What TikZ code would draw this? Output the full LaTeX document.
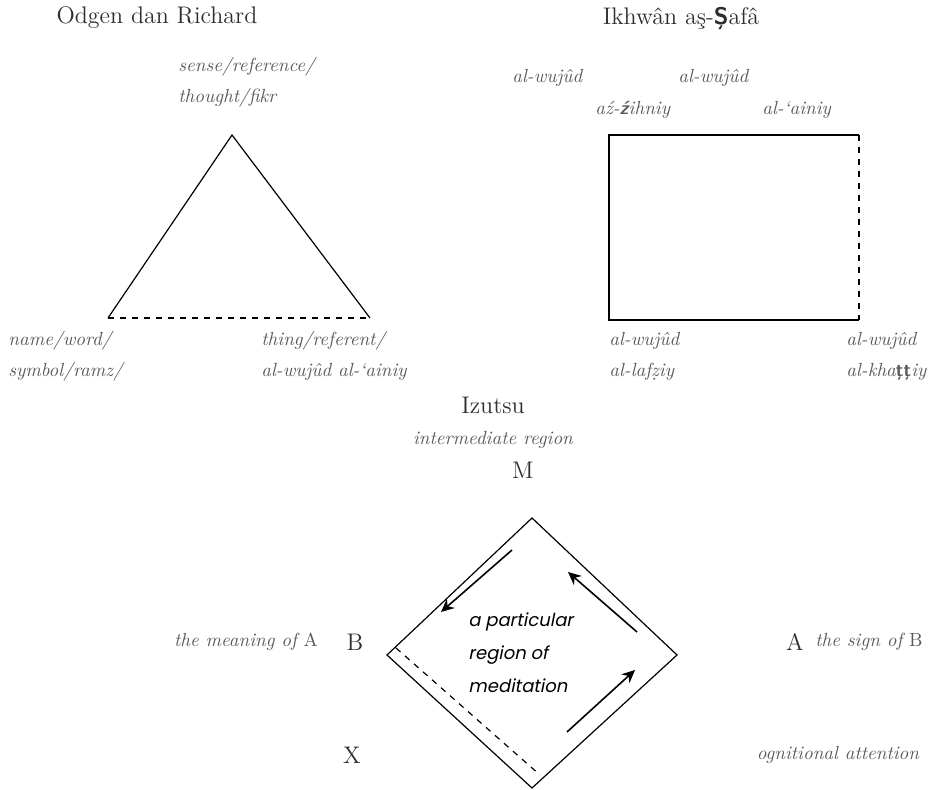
\documentclass[tikz,border=0pt]{standalone}
\usepackage{fontspec}
\usetikzlibrary{arrows.meta}
\newfontfamily\regionfont{Poppins}[FakeSlant=0.2]
\definecolor{labelgrey}{HTML}{5A5A5A}
\definecolor{titlegrey}{HTML}{2E2E2E}

\begin{document}
\begin{tikzpicture}[x=0.5pt, y=-0.5pt,
    title/.style={text=titlegrey, font=\fontsize{12}{14}\selectfont, inner sep=0pt},
    term/.style={text=labelgrey, font=\fontsize{9.5}{15.5}\selectfont\itshape, anchor=west, align=left, inner sep=0pt},
    letter/.style={text=titlegrey, font=\fontsize{12}{14}\selectfont, inner sep=0pt},
    edge/.style={line width=0.6pt},
    flow/.style={-{Stealth[length=6.5pt, width=6pt]}, line width=0.8pt}]
        \useasboundingbox (0,0) rectangle (936,790);

        % Odgen dan Richard
        \node[title] (ogdenTitle) at (157,18) {Odgen dan Richard};
        \coordinate (apex) at (232,135);
        \coordinate (baseL) at (108,318);
        \coordinate (baseR) at (370,318);
        \draw[edge] (baseL) -- (apex) -- (baseR);
        \draw[edge, dashed] (baseL) -- (baseR);
        \node[term] (thought) at (178,82) {sense/reference/\\thought/fikr};
        \node[term] (symbol) at (8,356) {name/word/\\symbol/ramz/};
        \node[term] (referent) at (261,356) {thing/referent/\\al-wujûd al-‘ainiy};

        % Ikhwan as-Safa
        \node[title] (ikhwanTitle) at (681,18) {Ikhwân aş-{\bfseries\sffamily Ş}afâ};
        \coordinate (boxTL) at (609,135);
        \coordinate (boxTR) at (859,135);
        \coordinate (boxBR) at (859,320);
        \coordinate (boxBL) at (609,320);
        \draw[edge] (boxBR) -- (boxBL) -- (boxTL) -- (boxTR);
        \draw[edge, dashed] (boxTR) -- (boxBR);
        \node[term] (wujudA) at (512,78) {al-wujûd};
        \node[term] (wujudB) at (678,78) {al-wujûd};
        \node[term] (zihniy) at (595,110) {aź-{\bfseries\sffamily ź}ihniy};
        \node[term] (ainiy) at (762,110) {al-‘ainiy};
        \node[term] (lafziy) at (609,356) {al-wujûd\\al-lafẓiy};
        \node[term] (khattiy) at (846,356) {al-wujûd\\al-kha{\upshape\bfseries\sffamily ţţ}iy};

        % Izutsu
        \node[title] (izutsuTitle) at (493,405) {Izutsu};
        \node[term, anchor=center] (intermediate) at (493,440) {intermediate region};
        \node[letter] (M) at (523,470) {M};
        \coordinate (dTop) at (532,518);
        \coordinate (dRight) at (677,655);
        \coordinate (dBottom) at (532,788);
        \coordinate (dLeft) at (387,655);
        \draw[edge] (dTop) -- (dRight) -- (dBottom) -- (dLeft) -- cycle;
        \coordinate (dashStart) at (396,648);
        \coordinate (dashEnd) at (540,775);
        \draw[edge, dashed] (dashStart) -- (dashEnd);
        \coordinate (flowA1) at (512,550);
        \coordinate (flowA2) at (441,612);
        \coordinate (flowB1) at (637,632);
        \coordinate (flowB2) at (568,572);
        \coordinate (flowC1) at (567,732);
        \coordinate (flowC2) at (635,670);
        \draw[flow] (flowA1) -- (flowA2);
        \draw[flow] (flowB1) -- (flowB2);
        \draw[flow] (flowC1) -- (flowC2);
        \node[anchor=west, align=left, inner sep=0pt, font=\regionfont\fontsize{9}{16.5}\selectfont] (region) at (468,653) {a particular\\region of\\meditation};
        \node[letter] (B) at (355,642) {B};
        \node[term, anchor=center] (meaning) at (246,642) {the meaning of {\upshape A}};
        \node[letter] (X) at (352,755) {X};
        \node[letter] (A) at (795,642) {A};
        \node[term] (sign) at (815,642) {the sign of {\upshape B}};
        \node[term, anchor=center] (attention) at (838,755) {ognitional attention};
    \end{tikzpicture}
\end{document}
